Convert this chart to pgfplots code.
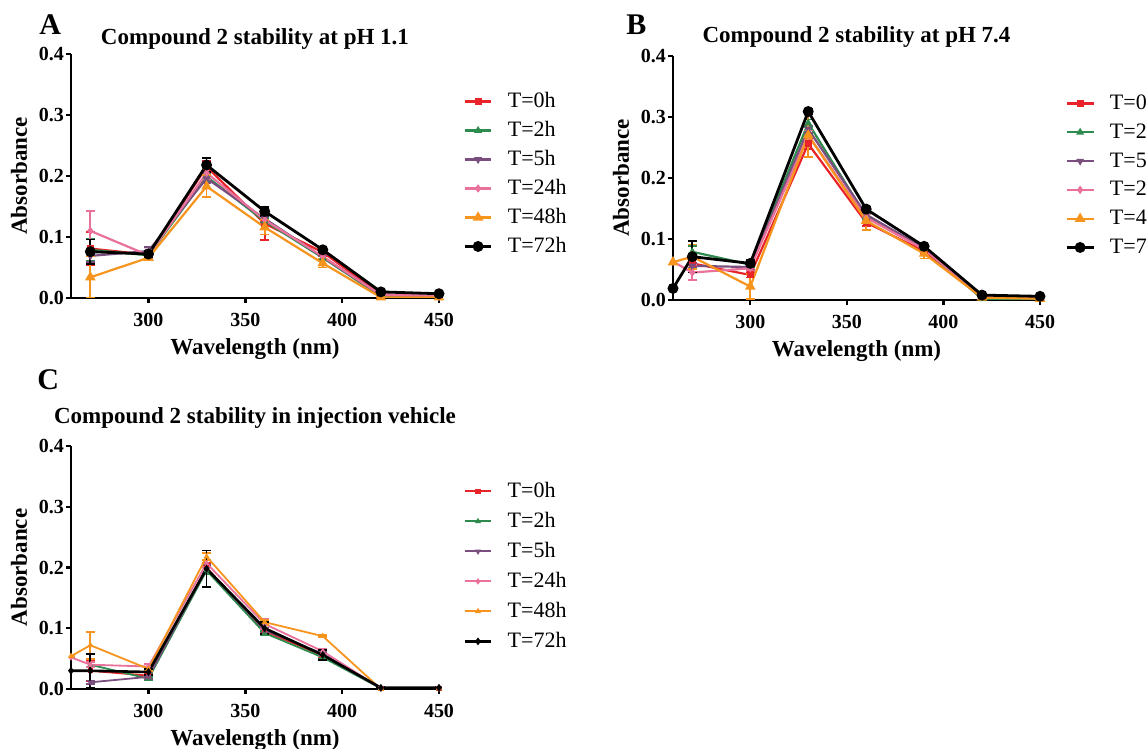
\documentclass[border=0pt]{standalone}
\usepackage{fontspec}
\setmainfont{Liberation Serif}
\usepackage{pgfplots}
\usepackage{pgfplotstable}
\pgfplotsset{compat=1.18}

\definecolor{cred}{HTML}{E8232A}
\definecolor{cgreen}{HTML}{2E8B4E}
\definecolor{cpurple}{HTML}{7A4E7E}
\definecolor{cpink}{HTML}{E9719B}
\definecolor{corange}{HTML}{F7941E}

% Panel A: pH 1.1
\pgfplotstableread{
x   r     re    g     ge    p     pe    k     ke    o     oe    b     be
270 0.081 0.027 0.079 0.018 0.069 0.010 0.110 0.033 0.034 0.034 0.076 0.020
300 0.071 0.005 0.070 0.004 0.077 0.007 0.070 0.005 0.066 0.004 0.072 0.005
330 0.215 0.010 0.199 0.008 0.196 0.008 0.205 0.010 0.183 0.018 0.218 0.012
360 0.122 0.027 0.126 0.005 0.130 0.006 0.128 0.006 0.116 0.012 0.142 0.007
390 0.075 0.006 0.066 0.004 0.067 0.004 0.068 0.005 0.057 0.007 0.079 0.004
420 0.006 0.002 0.003 0.001 0.005 0.001 0.005 0.001 0.001 0.001 0.010 0.001
450 0.002 0.001 0.001 0.001 0.002 0.001 0.004 0.001 0.001 0.001 0.007 0.001
}\tA

% Panel B: pH 7.4
\pgfplotstableread{
x   r     re    g     ge    p     pe    k     ke    o     oe    b     be
260 nan   nan   nan   nan   nan   nan   0.063 0.000 0.062 0.000 0.019 0.000
270 0.060 0.008 0.079 0.010 0.056 0.004 0.045 0.012 0.071 0.020 0.071 0.026
300 0.041 0.004 0.058 0.004 0.054 0.004 0.052 0.004 0.022 0.020 0.060 0.005
330 0.256 0.008 0.290 0.006 0.280 0.006 0.270 0.008 0.270 0.036 0.309 0.004
360 0.127 0.006 0.137 0.004 0.140 0.004 0.135 0.005 0.130 0.015 0.149 0.004
390 0.080 0.005 0.084 0.003 0.085 0.003 0.083 0.003 0.076 0.008 0.088 0.003
420 0.006 0.001 0.002 0.001 0.006 0.001 0.006 0.001 0.004 0.001 0.008 0.001
450 0.006 0.001 0.001 0.001 0.004 0.001 0.005 0.001 0.002 0.001 0.006 0.001
}\tB

% Panel C: injection vehicle
\pgfplotstableread{
x   r     re    g     ge    p     pe    k     ke    o     oe    b     be
260 nan   nan   nan   nan   nan   nan   0.052 0.000 0.054 0.000 0.030 0.000
270 0.030 0.017 0.040 0.004 0.011 0.003 0.040 0.004 0.072 0.022 0.030 0.028
300 0.022 0.003 0.017 0.003 0.020 0.003 0.037 0.004 0.033 0.003 0.028 0.005
330 0.200 0.008 0.195 0.006 0.198 0.006 0.207 0.006 0.218 0.006 0.198 0.030
360 0.095 0.006 0.092 0.004 0.097 0.004 0.107 0.008 0.110 0.004 0.100 0.010
390 0.055 0.004 0.052 0.003 0.058 0.003 0.062 0.004 0.087 0.002 0.056 0.008
420 0.001 0.001 0.001 0.001 0.001 0.001 0.001 0.001 0.000 0.001 0.002 0.001
450 0.001 0.001 0.001 0.001 0.001 0.001 0.001 0.001 0.001 0.001 0.002 0.001
}\tC

\pgfplotsset{
  panel/.style={
    scale only axis,
    xmin=260, xmax=450, ymin=0, ymax=0.4,
    axis x line*=bottom, axis y line*=left,
    axis line style={line width=1.3pt, -},
    xtick={300,350,400,450},
    ytick={0,0.1,0.2,0.3,0.4},
    yticklabel style={/pgf/number format/fixed, /pgf/number format/fixed zerofill, /pgf/number format/precision=1, xshift=2.5pt},
    /pgf/number format/assume math mode=true,
    tick style={line width=1.2pt, black},
    tick align=outside,
    major tick length=2.5pt,
    ticklabel style={font=\bfseries\fontsize{10}{12}\selectfont},
    xticklabel style={yshift=-1.7pt},
    label style={font=\bfseries\fontsize{11.5}{13}\selectfont},
    title style={font=\bfseries\fontsize{11.5}{13}\selectfont, at={(0.5,1)}, anchor=base},
    xlabel={Wavelength (nm)},
    ylabel={Absorbance},
    xlabel style={at={(axis description cs:0.5,0)}, anchor=base, yshift=-28.5pt},
    ylabel style={at={(axis description cs:-0.12,0.5)}, anchor=base},
    legend cell align=left,
    legend image code/.code={\draw[mark repeat=2,mark phase=2] plot coordinates {(0cm,0cm) (0.235cm,0cm) (0.47cm,0cm)};},
    legend style={draw=none, fill=none, anchor=north west, inner xsep=0pt, inner ysep=0pt,
      font=\fontsize{11}{13}\selectfont,
      nodes={inner sep=0pt, text height=8pt, text depth=2pt},
      /tikz/every odd column/.append style={column sep=7.5pt}},
  },
  eb/.style={error bars/.cd, y dir=both, y explicit,
    error bar style={line width=0.9pt, solid},
    error mark options={line width=0.9pt, mark size=2.2pt, rotate=90}},
  sr/.style={color=cred, line width=1.1pt, mark=square*, mark size=1.2pt, eb},
  sg/.style={color=cgreen, line width=1.1pt, mark=triangle*, mark size=1.2pt, eb},
  sp/.style={color=cpurple, line width=1.1pt, mark=triangle*, mark options={rotate=180}, mark size=1.2pt, eb},
  sk/.style={color=cpink, line width=1.1pt, mark=diamond*, mark size=1.2pt, eb},
  so/.style={color=corange, line width=1.1pt, mark=triangle*, mark size=2pt, eb},
  sb/.style={color=black, line width=1.4pt, mark=*, mark size=2pt, eb},
  cr/.style={color=cred, line width=0.9pt, mark=square*, mark size=0.9pt, eb},
  cg/.style={color=cgreen, line width=0.9pt, mark=triangle*, mark size=0.9pt, eb},
  cp/.style={color=cpurple, line width=0.9pt, mark=triangle*, mark options={rotate=180}, mark size=0.9pt, eb},
  ck/.style={color=cpink, line width=0.9pt, mark=diamond*, mark size=0.9pt, eb},
  co/.style={color=corange, line width=0.9pt, mark=triangle*, mark size=0.9pt, eb},
  cb/.style={color=black, line width=1.3pt, mark=diamond*, mark size=0.9pt, eb},
}

\begin{document}
\begin{tikzpicture}[x=1pt,y=1pt]
\path[use as bounding box, clip] (0,0) rectangle (573.5,374.5);

% Panel A
\begin{axis}[panel, at={(35.5pt,225.5pt)}, anchor=south west, width=184pt, height=122pt,
  title={Compound 2 stability at pH 1.1}, title style={yshift=-1.5pt},
  legend style={at={(1.065,0.848)}, /tikz/row sep=4.5pt}]
\addplot[sr] table[x=x, y=r, y error=re] {\tA};
\addplot[sg] table[x=x, y=g, y error=ge] {\tA};
\addplot[sp] table[x=x, y=p, y error=pe] {\tA};
\addplot[sk] table[x=x, y=k, y error=ke] {\tA};
\addplot[so] table[x=x, y=o, y error=oe] {\tA};
\addplot[sb] table[x=x, y=b, y error=be] {\tA};
\legend{T=0h, T=2h, T=5h, T=24h, T=48h, T=72h}
\end{axis}

% Panel B
\begin{axis}[panel, at={(336.5pt,224.5pt)}, anchor=south west, width=183.5pt, height=122pt,
  title={Compound 2 stability at pH 7.4}, title style={yshift=0.5pt},
  legend style={at={(1.068,0.848)}, /tikz/row sep=4.4pt}]
\addplot[sr] table[x=x, y=r, y error=re] {\tB};
\addplot[sg] table[x=x, y=g, y error=ge] {\tB};
\addplot[sp] table[x=x, y=p, y error=pe] {\tB};
\addplot[sk] table[x=x, y=k, y error=ke] {\tB};
\addplot[so] table[x=x, y=o, y error=oe] {\tB};
\addplot[sb] table[x=x, y=b, y error=be] {\tB};
\legend{T=0h, T=2h, T=5h, T=24h, T=48h, T=72h}
\end{axis}

% Panel C
\begin{axis}[panel, at={(35.5pt,30pt)}, anchor=south west, width=184pt, height=121.5pt,
  title={Compound 2 stability in injection vehicle}, title style={yshift=5.5pt},
  legend style={at={(1.065,0.856)}, /tikz/row sep=5pt}]
\addplot[cr] table[x=x, y=r, y error=re] {\tC};
\addplot[cg] table[x=x, y=g, y error=ge] {\tC};
\addplot[cp] table[x=x, y=p, y error=pe] {\tC};
\addplot[ck] table[x=x, y=k, y error=ke] {\tC};
\addplot[co] table[x=x, y=o, y error=oe] {\tC};
\addplot[cb] table[x=x, y=b, y error=be] {\tC};
\legend{T=0h, T=2h, T=5h, T=24h, T=48h, T=72h}
\end{axis}

\node[font=\bfseries\fontsize{15}{17}\selectfont, anchor=base west, inner sep=0pt] at (19.5,357) {A};
\node[font=\bfseries\fontsize{15}{17}\selectfont, anchor=base west, inner sep=0pt] at (313,357) {B};
\node[font=\bfseries\fontsize{15}{17}\selectfont, anchor=base west, inner sep=0pt] at (18.5,179.5) {C};
\end{tikzpicture}
\end{document}
